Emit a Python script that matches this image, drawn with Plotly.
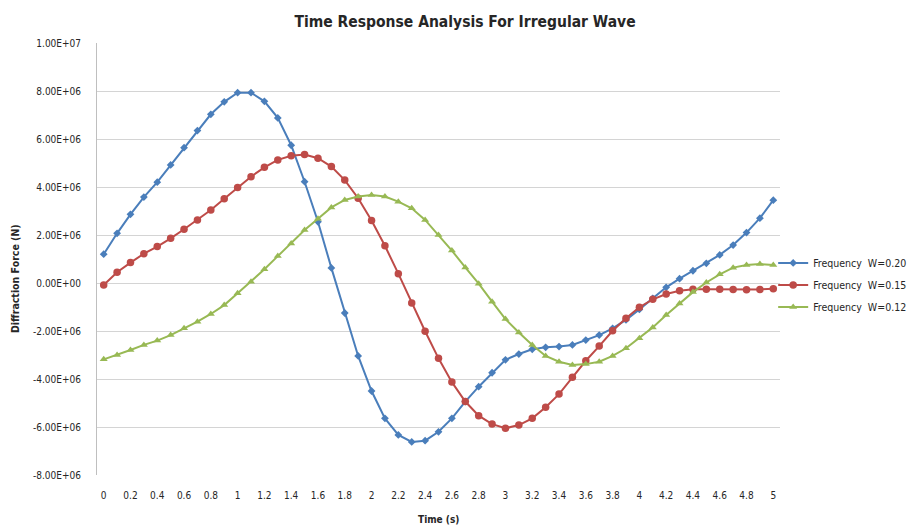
import plotly.graph_objects as go

time_s = [0.0, 0.1, 0.2, 0.3, 0.4, 0.5, 0.6, 0.7, 0.8, 0.9,
          1.0, 1.1, 1.2, 1.3, 1.4, 1.5, 1.6, 1.7, 1.8, 1.9,
          2.0, 2.1, 2.2, 2.3, 2.4, 2.5, 2.6, 2.7, 2.8, 2.9,
          3.0, 3.1, 3.2, 3.3, 3.4, 3.5, 3.6, 3.7, 3.8, 3.9,
          4.0, 4.1, 4.2, 4.3, 4.4, 4.5, 4.6, 4.7, 4.8, 4.9, 5.0]

# values in units of 1e6 N
w020 = [1.2, 2.07, 2.86, 3.58, 4.2, 4.92, 5.64, 6.35, 7.03, 7.55,
        7.93, 7.93, 7.57, 6.88, 5.74, 4.22, 2.55, 0.63, -1.25, -3.04,
        -4.5, -5.64, -6.33, -6.62, -6.57, -6.2, -5.64, -4.94, -4.32, -3.74,
        -3.2, -2.96, -2.76, -2.68, -2.65, -2.58, -2.38, -2.17, -1.89, -1.54,
        -1.1, -0.64, -0.18, 0.18, 0.51, 0.82, 1.17, 1.58, 2.1, 2.7, 3.45]

w015 = [-0.08, 0.45, 0.85, 1.22, 1.52, 1.86, 2.24, 2.63, 3.04, 3.51,
        3.98, 4.43, 4.82, 5.13, 5.3, 5.35, 5.2, 4.85, 4.29, 3.53,
        2.6, 1.55, 0.39, -0.83, -2.01, -3.14, -4.13, -4.94, -5.53, -5.88,
        -6.05, -5.92, -5.64, -5.18, -4.63, -3.93, -3.24, -2.63, -1.99, -1.47,
        -1.01, -0.68, -0.46, -0.32, -0.26, -0.26, -0.26, -0.27, -0.28, -0.27, -0.24]

w012 = [-3.18, -3.0, -2.79, -2.58, -2.4, -2.17, -1.89, -1.61, -1.29, -0.92,
        -0.43, 0.05, 0.57, 1.12, 1.65, 2.21, 2.68, 3.15, 3.46, 3.6,
        3.67, 3.6, 3.39, 3.11, 2.63, 2.0, 1.35, 0.65, -0.03, -0.78,
        -1.5, -2.06, -2.58, -3.04, -3.28, -3.42, -3.38, -3.28, -3.04, -2.72,
        -2.3, -1.85, -1.33, -0.85, -0.38, 0.02, 0.36, 0.64, 0.75, 0.79, 0.75]

series_names = ["Frequency\u00a0\u00a0W=0.20", "Frequency\u00a0\u00a0W=0.15", "Frequency\u00a0\u00a0W=0.12"]

x_tick_vals = [0, 0.2, 0.4, 0.6, 0.8, 1, 1.2, 1.4, 1.6, 1.8, 2, 2.2, 2.4, 2.6, 2.8,
               3, 3.2, 3.4, 3.6, 3.8, 4, 4.2, 4.4, 4.6, 4.8, 5]
x_tick_text = ["0", "0.2", "0.4", "0.6", "0.8", "1", "1.2", "1.4", "1.6", "1.8", "2",
               "2.2", "2.4", "2.6", "2.8", "3", "3.2", "3.4", "3.6", "3.8", "4",
               "4.2", "4.4", "4.6", "4.8", "5"]
y_tick_vals = [-8e6, -6e6, -4e6, -2e6, 0, 2e6, 4e6, 6e6, 8e6, 1e7]
y_tick_text = ["-8.00E+06", "-6.00E+06", "-4.00E+06", "-2.00E+06", "0.00E+00",
               "2.00E+06", "4.00E+06", "6.00E+06", "8.00E+06", "1.00E+07"]

title_text = "Time Response Analysis For Irregular Wave"
x_title = "Time (s)"
y_title = "Diffraction Force (N)"

scale = 1e6
colors = ["#4A7EBB", "#BE4B48", "#98B954"]
symbols = ["diamond", "circle", "triangle-up"]
sizes = [6, 7.5, 7]

fig = go.Figure()
for i, (name, vals) in enumerate(zip(series_names, [w020, w015, w012])):
    fig.add_trace(go.Scatter(
        x=time_s, y=[v * scale for v in vals], name=name, mode="lines+markers",
        line=dict(color=colors[i], width=2),
        marker=dict(symbol=symbols[i], size=sizes[i], color=colors[i]),
        legendgroup=str(i),
    ))

font_family = "Liberation Sans Narrow, DejaVu Sans Condensed, Arial Narrow, sans-serif"

# page body has an 8px margin; figure is sized so that it fits the 922x529 window
W, H = 914, 521
fig.update_layout(
    width=W, height=H,
    paper_bgcolor="white", plot_bgcolor="white",
    margin=dict(l=89, r=142, t=35, b=54, autoexpand=False),
    font=dict(family=font_family, color="#404040", size=9),
    title=dict(text="<b>" + title_text + "</b>",
               x=0.5, xanchor="center", y=1 - 14 / H, yanchor="middle",
               font=dict(size=15.5, color="#262626", family=font_family)),
    showlegend=True,
    legend=dict(x=0.99, xanchor="left", y=0.44, yanchor="middle",
                font=dict(size=10.5, color="#262626", family=font_family),
                tracegroupgap=3, itemwidth=30, bgcolor="rgba(0,0,0,0)"),
    xaxis=dict(range=[-0.05, 5.05], tickmode="array", tickvals=x_tick_vals,
               ticktext=x_tick_text, showgrid=False, zeroline=False,
               showline=False, ticks="", ticklabelstandoff=13,
               tickfont=dict(size=10, color="#262626")),
    yaxis=dict(range=[-8e6, 1e7], tickmode="array", tickvals=y_tick_vals,
               ticktext=y_tick_text, showgrid=True, gridcolor="#D4D4D4", gridwidth=1,
               zeroline=False, showline=True, linecolor="#BFBFBF", linewidth=1,
               ticks="", ticklabelstandoff=13, tickfont=dict(size=10, color="#262626")),
    annotations=[
        dict(text="<b>" + x_title + "</b>", xref="paper", yref="paper",
             x=0.5, y=-44 / 432, xanchor="center", yanchor="middle", showarrow=False,
             font=dict(size=10, color="#262626", family=font_family)),
        dict(text="<b>" + y_title + "</b>", xref="paper", yref="paper",
             x=-82 / 683, y=196 / 432, xanchor="center", yanchor="middle", showarrow=False,
             textangle=-90, font=dict(size=10.5, color="#262626", family=font_family)),
    ],
)

fig.write_html("out.html")
